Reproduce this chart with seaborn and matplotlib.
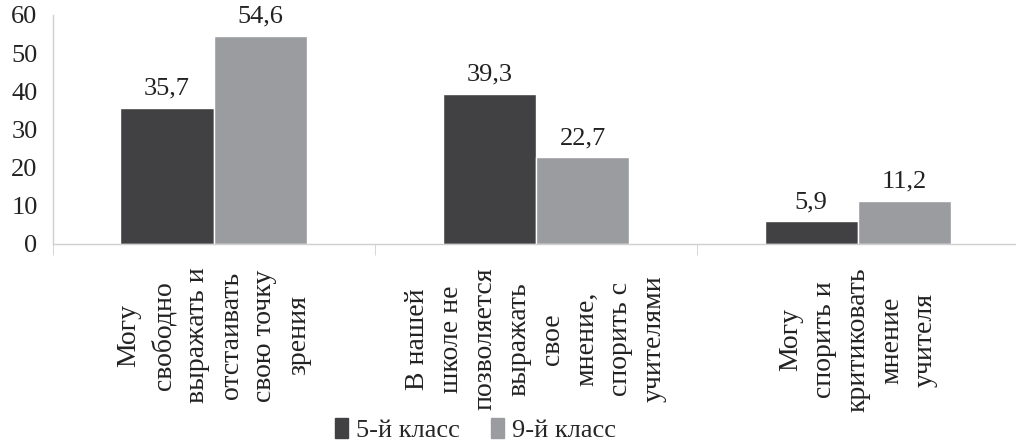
import numpy as np
import pandas as pd
import seaborn as sns
import matplotlib.pyplot as plt
from matplotlib.patches import Patch

# Данные
categorias = [
    "Могу\nсвободно\nвыражать и\nотстаивать\nсвою точку\nзрения",
    "В нашей\nшколе не\nпозволяется\nвыражать\nсвое\nмнение,\nспорить с\nучителями",
    "Могу\nспорить и\nкритиковать\nмнение\nучителя",
]
clases = ["5-й класс", "9-й класс"]
valores_5 = [35.7, 39.3, 5.9]
valores_9 = [54.6, 22.7, 11.2]
colores = ["#414143", "#9b9c9f"]

df = pd.DataFrame({
    "categoria": categorias * 2,
    "clase": [clases[0]] * 3 + [clases[1]] * 3,
    "valor": valores_5 + valores_9,
})

sns.set_style("white")
plt.rcParams["font.family"] = ["Liberation Serif", "DejaVu Serif"]

fig = plt.figure(figsize=(10.16, 4.44), dpi=100)
ax = fig.add_axes([0.052, 0.4505, 0.951, 0.5158])

sns.barplot(data=df, x="categoria", y="valor", hue="clase", palette=colores,
            width=0.58, saturation=1, ax=ax, legend=False)

# Etiquetas de valores
for cont in ax.containers:
    ax.bar_label(cont, labels=[f"{v:.1f}".replace(".", ",") for v in cont.datavalues],
                 padding=6, fontsize=19, color="#222222")

ax.set_ylim(0, 60)
ax.set_xlim(-0.5, 2.5)
ax.set_yticks(range(0, 61, 10))
ax.tick_params(axis="y", labelsize=19, length=5, color="#d0d0d0", pad=6,
               labelcolor="#222222")
ax.set_xticks(range(3))
ax.set_xticklabels(categorias, rotation=90, ha="center", va="top",
                   multialignment="center", fontsize=20, linespacing=1.46,
                   color="#222222")
ax.tick_params(axis="x", length=0, pad=17)
ax.set_xticks([-0.5, 0.5, 1.5, 2.5], minor=True)
ax.tick_params(axis="x", which="minor", length=8, color="#d0d0d0", bottom=True)
ax.set_xlabel("")
ax.set_ylabel("")

for s in ["top", "right"]:
    ax.spines[s].set_visible(False)
for s in ["left", "bottom"]:
    ax.spines[s].set_color("#d0d0d0")
    ax.spines[s].set_linewidth(1)

handles = [Patch(color=c, label=l) for c, l in zip(colores, clases)]
fig.legend(handles=handles, loc="lower center", bbox_to_anchor=(0.468, -0.05),
           ncol=2, frameon=False, fontsize=19, handlelength=0.5, handleheight=0.8,
           handletextpad=0.3, columnspacing=1.2)

fig.savefig("out.png", dpi=100)
